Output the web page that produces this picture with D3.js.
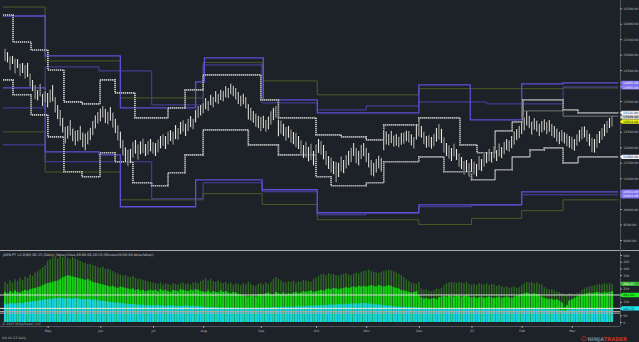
<!DOCTYPE html>
<html>
<head>
<meta charset="utf-8">
<title>NQ 06-23 daily</title>
<style>
  body { margin: 0; background: #1c2227; }
  svg { display: block; font-family: "DejaVu Sans", sans-serif; }
</style>
</head>
<body>
<script src="https://d3js.org/d3.v7.min.js"></script>
<script>
// ---- data ----
const monthIdx = [17, 38, 59, 79, 102, 124, 144, 165, 186, 206, 226];
const monthLbl = ["May", "Jun", "Jul", "Aug", "Sep", "Oct", "Nov", "Dec", "23", "Feb", "Mar"];
const priceTicks = [9000, 9500, 10000, 10500, 11000, 11500, 12000, 12500, 13000, 13500, 14000, 14500, 15000, 15500, 16000, 16500];
const volTicks = [0, 50, 100, 150, 200, 250, 300, 350, 400, 450, 500];

const highs = [
  15190,15105,14951,14988,14874,14869,14705,14760,14670,14765,14402,14188,14034,13877,14068,13765,13832,
  13785,13884,14041,13633,13387,13223,12977,12683,12720,12890,12633,12556,12571,12708,12502,12457,12536,12646,12870,13044,13153,
  13270,13347,13258,13163,13312,13138,12934,12728,12522,12243,12007,11930,11965,12178,12245,12104,12203,12288,12128,12213,12300,
  12183,12148,12258,12397,12432,12375,12516,12571,12526,12740,12636,12840,12884,12795,12937,13024,12939,13238,13347,13402,
  13456,13606,13511,13725,13650,13832,13737,13887,13844,13994,13931,14081,14006,13929,13810,13693,13747,13638,13407,13302,13185,13108,13034,
  12999,13034,12894,13011,13183,13292,13347,12910,12882,12775,12666,12700,12591,12516,12482,12375,12233,12094,12178,12039,12124,11910,
  12104,12288,12213,12104,11900,11728,11684,11577,11547,11532,11716,11609,11761,11910,11997,12148,11985,11910,12094,12148,
  11997,11845,11597,11512,11631,11751,11664,12582,12526,12442,12549,12400,12442,12357,12474,12496,12551,12539,12432,12345,12760,
  12795,12700,12516,12377,12400,12345,12452,12633,12760,12611,12330,12148,12074,11987,12128,11957,11815,11708,11567,11611,11492,
  11631,11547,11492,11738,11644,11815,11860,11967,11882,12064,11925,12138,12022,12193,12280,12238,12387,12526,12603,12710,
  12860,12979,13203,13034,12850,12959,12884,12775,12862,12917,12840,12894,12775,12700,12623,12516,12571,12496,12452,12377,
  12355,12280,12432,12571,12678,12690,12571,12452,12320,12278,12430,12549,12636,12775,12862,12981,13036
];
const lows = [
  14790,14745,14511,14668,14394,14529,14305,14380,14210,14245,13962,13788,13554,13517,13648,13305,13432,
  13285,13444,13481,13113,12907,12683,12477,12123,12280,12370,12173,12056,12171,12228,11982,11897,12076,12226,12390,12604,12753,
  12830,12947,12778,12743,12852,12638,12454,12208,11962,11723,11507,11390,11485,11658,11785,11604,11763,11808,11708,11753,11860,
  11783,11688,11838,11957,12052,11915,12096,12171,12086,12260,12236,12420,12504,12335,12517,12624,12579,12798,12947,13022,
  13096,13206,13171,13345,13290,13432,13397,13507,13484,13594,13591,13701,13646,13529,13390,13313,13387,13238,12887,12862,12785,12668,12614,
  12519,12614,12494,12571,12723,12872,12947,12350,12442,12355,12206,12300,12151,12096,12002,11915,11733,11614,11658,11539,11584,11410,
  11604,11808,11753,11604,11420,11268,11184,11097,10867,11012,11216,11129,11301,11410,11517,11688,11465,11410,11614,11688,
  11517,11345,11077,11032,11171,11311,11204,11902,12086,12042,12129,12020,12042,11997,12074,12116,12191,12139,12052,11945,12240,
  12335,12300,12096,11977,12020,11945,12032,12173,12240,12131,11830,11688,11634,11527,11708,11557,11375,11288,11107,11191,11052,
  11171,11127,11052,11258,11224,11375,11460,11547,11502,11644,11525,11698,11622,11773,11880,11858,11967,12086,12203,12290,
  12400,12539,12703,12614,12410,12559,12504,12355,12462,12537,12420,12494,12355,12300,12183,12096,12171,12116,12032,11977,
  11935,11880,12052,12171,12258,12310,12171,12032,11840,11818,11990,12129,12236,12355,12462,12601,12676
];

const volTotal = [
  300,285,310,295,320,305,330,315,340,330,355,345,370,380,395,410,425,
  455,470,480,490,475,495,485,490,480,470,485,475,465,455,445,440,430,435,425,420,410,
  405,415,395,400,390,380,370,360,355,345,350,340,335,345,330,325,320,315,310,305,300,
  295,290,285,295,280,290,285,275,290,285,280,290,295,285,290,280,295,300,290,305,
  315,325,310,320,305,300,310,295,290,300,285,295,280,290,285,275,290,280,300,285,275,270,285,
  290,280,295,285,300,320,335,325,310,300,295,305,300,310,295,305,300,315,310,305,300,320,
  330,345,355,360,350,365,355,360,350,345,355,360,365,355,350,360,370,365,375,380,
  385,390,380,375,370,365,375,380,385,390,385,380,370,360,350,335,320,305,295,290,285,
  300,250,240,245,235,230,240,250,245,255,275,290,295,300,295,290,300,295,290,300,285,
  280,285,275,290,285,280,290,275,285,280,270,275,265,260,265,255,260,265,255,260,
  275,290,300,295,300,290,295,285,280,260,250,240,245,235,230,225,215,210,205,215,
  210,205,215,220,240,250,260,265,270,275,280,285,280,290,285,290,284
];
const volMid = [
  225,215,230,220,235,225,220,230,240,235,245,250,255,260,265,275,285,
  290,295,300,305,310,320,335,340,350,345,340,335,330,325,320,315,320,310,300,295,290,
  285,280,275,270,265,270,260,255,265,260,255,250,245,250,240,245,235,240,230,235,240,
  235,240,230,245,235,240,230,225,240,235,230,245,240,235,230,240,235,245,240,230,
  230,225,235,220,230,225,220,235,225,230,220,215,225,220,210,205,200,195,190,195,200,190,205,
  210,205,215,220,210,205,225,215,210,220,205,215,210,220,225,215,220,230,225,230,235,225,
  230,235,240,235,245,250,245,255,250,245,250,255,260,255,260,265,260,270,265,270,
  265,270,275,270,265,275,270,265,270,275,270,260,255,250,240,235,230,225,220,225,230,
  200,185,175,180,170,175,180,170,185,190,195,190,200,195,190,200,195,190,195,200,190,
  185,190,180,185,190,180,185,190,185,180,185,190,180,185,190,185,180,190,195,200,
  210,215,220,215,210,215,210,205,190,180,175,170,175,165,170,160,145,110,125,160,
  170,180,190,200,205,210,215,220,215,220,225,220,215,225,220,225,230
];
const volBase = [
  140,135,145,140,138,142,145,140,148,150,152,155,158,160,162,165,168,
  170,172,175,178,176,180,178,175,180,177,175,178,176,172,170,168,172,170,165,168,162,
  160,158,155,152,150,148,145,146,142,140,138,136,134,135,132,130,128,130,126,128,125,
  126,124,128,122,125,120,124,122,126,120,118,122,120,124,118,120,122,118,120,116,
  114,112,110,112,108,110,106,108,110,106,108,105,107,104,106,105,108,104,106,103,105,107,104,
  106,108,105,110,107,112,110,108,112,110,114,112,115,113,116,118,115,120,118,122,120,124,
  122,126,124,128,126,130,128,132,130,134,132,135,133,136,138,136,140,138,140,142,
  140,138,136,134,132,130,128,126,124,122,120,118,116,115,114,112,110,112,110,108,110,
  108,104,100,102,98,100,97,99,102,100,98,101,99,100,97,99,101,98,100,99,97,
  98,100,96,99,101,97,100,98,102,99,97,100,98,101,99,97,100,98,101,99,
  100,102,99,101,98,100,97,99,96,98,95,97,94,96,93,90,88,85,90,95,
  96,98,95,97,99,96,98,100,97,99,101,98,100,102,99,101,102
];

// step levels: [bar index where the level starts, price]
const purpleHi = [[-0.8,16251],[16,14958],[46,13276],[76,14117],[79.5,14893],[103,13535],[124.5,13115],[165,14020],[185.5,12888],[206,14052],[222.5,14085]];
const purpleLo = [[-0.8,13923],[16,11854],[37.5,11757],[46,10076],[76,10949],[102.5,10626],[124.5,9882],[165,10140],[206,10561]];
const purpleHi2 = [[-0.8,13276],[16,14602],[37.5,14473],[58.5,13373],[79,14667],[102.5,13438],[124.5,13212],[144,13341],[165,13470],[192,13406],[222.5,13955]];
const purpleLo2 = [[-0.8,12080],[16,11531],[58.5,10335],[79,10852],[102.5,10561],[124.5,9817],[144,9882],[165,10076],[186,10140],[206,10464]];
const oliveHi = [[-0.8,16542],[16,14797],[46,13600],[79,14750],[102.5,14150],[124.5,13700],[165,13900],[222.5,13923]];
const oliveLo = [[-0.8,12500],[16,11200],[46,10300],[79,10500],[102.5,10150],[124.5,9655],[165,9500],[186,9700],[206,9950],[222.5,10300]];
const dotHi = [[-0.8,16283],[3.2,15410],[10.4,15152],[17.1,14505],[23.5,13470],[30.7,13406],[37.9,14182],[43.9,13761],[51.8,12953],[65,13276],[71.8,13858],[79,14344],[102,13535],[109,12953],[124,12404],[134,12339],[144,12242],[151,12727],[165,12953],[181.4,12080],[188.2,11822],[195.4,12533],[202.2,12824],[206.5,13535],[222.5,13212],[228.5,13115]];
const dotLo = [[-0.8,14182],[3.2,13700],[10.4,13050],[17.1,12339],[23.5,11207],[30.7,11046],[37.9,11822],[43.9,11531],[51,10852],[58.5,10755],[65,11175],[71.8,11757],[79,12565],[97,12080],[109,11757],[124,11046],[130,10755],[144,10852],[151,11531],[165,11692],[175,11207],[186,10949],[195.4,11272],[202.2,11692],[209.3,11918],[215,11983],[222.5,11498],[228.5,11692]];
const grayThin = [[206.5,13180],[222.5,13009]];

const markValues = [14085, 13955, 13116, 13009, 12954, 11692, 10561, 10464];
const markKinds = ["purple", "purple", "white", "gray", "yellow", "white", "purple", "purple"];
const volMarkValues = [284.25, 201.5, 101.75];
const volMarkKinds = ["dgreen", "green", "cyan"];
const volLines = [201.5, 101.75, 78, 66];

// ---- layout ----
const W = 639, H = 342;
const axisX = 620;
const lastIdx = 244.5;

const svg = d3.select("body").append("svg").attr("width", W).attr("height", H);
svg.append("rect").attr("width", W).attr("height", H).attr("fill", "#1c2227");

const x = d3.scaleLinear().domain([0, highs.length - 1]).range([5, 612]);
const y = d3.scaleLinear().domain([9000, 16500]).range([240, 8.3]);
const v = d3.scaleLinear().domain([0, 500]).range([322, 255]);

// step lines
const step = d3.line().x(d => x(d[0])).y(d => y(d[1])).curve(d3.curveStepAfter);
const withEnd = pts => pts.concat([[lastIdx, pts[pts.length - 1][1]]]);

const g = svg.append("g");
const drawStep = (pts, color, width, dash) => {
  g.append("path").attr("d", step(withEnd(pts))).attr("fill", "none")
    .attr("stroke", color).attr("stroke-width", width)
    .attr("stroke-dasharray", dash || null);
};
drawStep(oliveHi, "#4e5a26", 1);
drawStep(oliveLo, "#4e5a26", 1);
drawStep(purpleHi2, "#4a42a8", 1);
drawStep(purpleLo2, "#4a42a8", 1);
drawStep(purpleHi, "#5b50d6", 1.3);
drawStep(purpleLo, "#5b50d6", 1.3);
drawStep(grayThin, "#8e8e8e", 0.8);
drawStep(dotHi, "#4c4f52", 1.6);
drawStep(dotHi, "#cfcfcf", 1.6, "1,1");
drawStep(dotLo, "#4c4f52", 1.6);
drawStep(dotLo, "#cfcfcf", 1.6, "1,1");

// price bars
svg.append("g").selectAll("rect").data(highs).join("rect")
  .attr("x", (d, i) => x(i) - 0.7)
  .attr("width", 1.4)
  .attr("y", d => y(d))
  .attr("height", (d, i) => y(lows[i]) - y(d))
  .attr("fill", "#ffffff")
  .attr("stroke", "#0a0a0a")
  .attr("stroke-width", 0.5);

// panel separator
svg.append("line").attr("x1", 0).attr("x2", W).attr("y1", 250.5).attr("y2", 250.5)
  .attr("stroke", "#a4a8ac").attr("stroke-width", 1);

// volume panel
const vg = svg.append("g");
vg.selectAll(".vt").data(volTotal).join("rect")
  .attr("x", (d, i) => x(i) - 0.7).attr("width", 1.4)
  .attr("y", d => v(d)).attr("height", d => v(0) - v(d))
  .attr("fill", "#2e6a22");
vg.selectAll(".vm").data(volMid).join("rect")
  .attr("x", (d, i) => x(i) - 1.05).attr("width", 2.1)
  .attr("y", d => v(d)).attr("height", d => v(0) - v(d))
  .attr("fill", "#14d414");
vg.selectAll(".vb").data(volBase).join("rect")
  .attr("x", (d, i) => x(i) - 1.05).attr("width", 2.1)
  .attr("y", d => v(d)).attr("height", d => v(0) - v(d))
  .attr("fill", "#1ad3e4");
vg.selectAll(".vl").data(volLines).join("line")
  .attr("x1", 0).attr("x2", axisX).attr("y1", d => v(d)).attr("y2", d => v(d))
  .attr("stroke", (d, i) => i === 0 ? "#d8d8d8" : i === 1 ? "#e6e6e6" : "#a9a9a9")
  .attr("stroke-width", 1);

svg.append("text").attr("x", 3).attr("y", 256).attr("font-size", 3.4).attr("fill", "#c8c8c8")
  .text("JAEN PT v2.0(NQ 06-23 (Daily) (false,Close,09:00:00,16:15,(Minute,08:00:00,false,false))");
svg.append("text").attr("x", 2).attr("y", 324.5).attr("font-size", 3.2).attr("fill", "#a0a0a0")
  .text("© 2023 NinjaTrader, LLC");

// right axis line
svg.append("line").attr("x1", axisX + 0.5).attr("x2", axisX + 0.5).attr("y1", 0).attr("y2", 326)
  .attr("stroke", "#50565c").attr("stroke-width", 1);

// axis markers (placed first so tick labels under them can be hidden)
const placeMarks = (vals, kinds, scale) => {
  const items = vals.map((d, i) => ({ d, k: kinds[i], y: scale(d) })).sort((a, b) => a.y - b.y);
  for (let i = 1; i < items.length; i++) {
    if (items[i].y - items[i - 1].y < 4.4) items[i].y = items[i - 1].y + 4.4;
  }
  return items;
};
const priceMarks = placeMarks(markValues, markKinds, y);
const volMarks = placeMarks(volMarkValues, volMarkKinds, v);
const markYs = priceMarks.concat(volMarks).map(d => d.y);

const styleAxis = sel => {
  sel.select(".domain").remove();
  sel.selectAll("line").attr("stroke", "#9aa0a6");
  sel.selectAll("text").attr("fill", "#b9bdc1").attr("font-size", 3.2).attr("font-family", "DejaVu Sans, sans-serif");
};
const hideCovered = (sel, scale) => {
  sel.selectAll(".tick").filter(d => markYs.some(m => Math.abs(m - scale(d)) < 4)).select("text").remove();
};
svg.append("g").attr("transform", `translate(${axisX},0)`)
  .call(d3.axisRight(y).tickValues(priceTicks).tickSize(2).tickPadding(1.2).tickFormat(d3.format(".2f")))
  .call(styleAxis).call(s => hideCovered(s, y));
svg.append("g").attr("transform", `translate(${axisX},0)`)
  .call(d3.axisRight(v).tickValues(volTicks).tickSize(2).tickPadding(1.2).tickFormat(d3.format("d")))
  .call(styleAxis).call(s => hideCovered(s, v));

// bottom axis
svg.append("line").attr("x1", 0).attr("x2", axisX).attr("y1", 326.5).attr("y2", 326.5)
  .attr("stroke", "#50565c");
svg.append("g").attr("transform", "translate(0,326)")
  .call(d3.axisBottom(x).tickValues(monthIdx).tickSize(2).tickPadding(2).tickFormat((d, i) => monthLbl[i]))
  .call(styleAxis);
svg.append("text").attr("x", 2).attr("y", 339).attr("font-size", 3.2).attr("fill", "#b0b0b0")
  .text("NQ 06-23 Daily");

const boxFill = { purple: "#7d72f0", white: "#f4f4f4", gray: "#c9c9c9", yellow: "#f2f20c",
  dgreen: "#2fb52f", green: "#19f019", cyan: "#1ee8f0" };
const boxText = { purple: "#ffffff", white: "#111", gray: "#111", yellow: "#111",
  dgreen: "#ffffff", green: "#111", cyan: "#111" };
const drawMarks = (items, fmt) => {
  const mg = svg.append("g").selectAll("g").data(items).join("g")
    .attr("transform", d => `translate(${axisX},${d.y})`);
  mg.append("path").attr("d", "M0,0 L2,-2.2 L19,-2.2 L19,2.2 L2,2.2 Z")
    .attr("fill", d => boxFill[d.k]);
  mg.append("text").attr("x", 3).attr("y", 1.2).attr("font-size", 3.2)
    .attr("fill", d => boxText[d.k]).text(d => fmt(d.d));
};
drawMarks(priceMarks, d3.format(".2f"));
drawMarks(volMarks, d3.format(".2f"));

// logo
const logo = svg.append("g").attr("transform", "translate(584,340.5)");
logo.append("circle").attr("cx", 0).attr("cy", -1.8).attr("r", 2.2).attr("fill", "none")
  .attr("stroke", "#b23030").attr("stroke-width", 0.8);
const lt = logo.append("text").attr("x", 3.5).attr("y", 0).attr("font-size", 5.2)
  .attr("font-weight", "bold");
lt.append("tspan").attr("fill", "#7d7d7d").text("NINJA");
lt.append("tspan").attr("fill", "#c0392b").text("TRADER");
</script>
</body>
</html>
